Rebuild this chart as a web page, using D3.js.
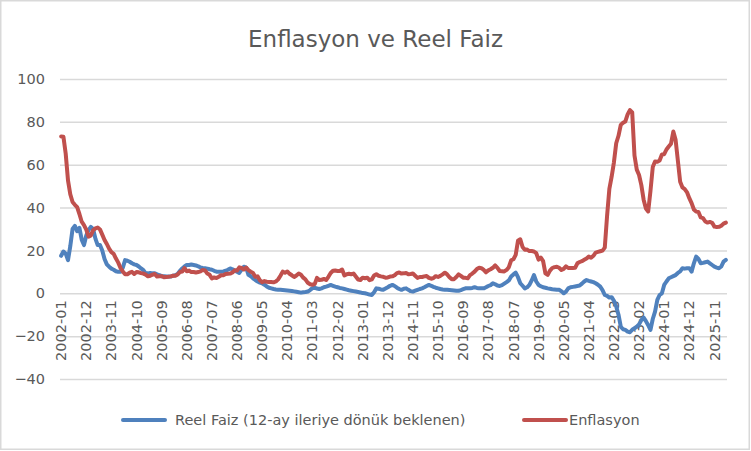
<!DOCTYPE html>
<html>
<head>
<meta charset="utf-8">
<script src="https://cdn.jsdelivr.net/npm/d3@7"></script>
<style>
  body { margin: 0; background: #fff; }
  text { font-family: "DejaVu Sans", sans-serif; fill: #595959; }
</style>
</head>
<body>
<div id="chart"></div>
<script>
// series names
var seriesNames = ["Reel Faiz (12-ay ileriye dönük beklenen)", "Enflasyon"];

// first and last month on the category axis, label every 11th month
var startMonth = "2002-01";
var endMonth = "2026-04";
var labelEvery = 11;

var yTicks = [-40, -20, 0, 20, 40, 60, 80, 100];

// Enflasyon, monthly, 2002-01 .. 2026-04
var enflasyon = [
  73.2, 73.1, 65.1, 52.7, 46.2, 42.6, 41.3, 40.2, 37.0, 33.4, 31.8, 29.7,
  26.4, 27.0, 29.4, 30.3, 30.7, 29.8, 27.4, 24.9, 23.0, 20.8, 19.2, 18.4,
  16.2, 14.3, 11.8, 10.2, 8.9, 8.9, 9.6, 10.0, 9.0, 9.9, 9.8, 9.4,
  9.2, 8.7, 7.9, 8.2, 8.7, 9.0, 7.8, 7.9, 8.0, 7.5, 7.6, 7.7,
  7.9, 8.2, 8.2, 8.8, 9.9, 10.1, 11.7, 10.3, 10.6, 9.9, 9.9, 9.7,
  9.9, 10.2, 10.9, 10.7, 9.2, 8.6, 6.9, 7.4, 7.1, 7.7, 8.4, 8.4,
  9.0, 9.1, 9.2, 9.7, 10.7, 10.6, 12.1, 11.8, 11.1, 12.0, 10.8, 10.1,
  9.5, 7.7, 7.9, 6.1, 5.2, 5.7, 5.4, 5.3, 5.3, 5.1, 5.5, 6.5,
  8.2, 10.1, 9.6, 10.2, 9.1, 8.4, 7.6, 8.3, 9.2, 8.6, 7.3, 6.4,
  4.9, 4.2, 4.0, 4.3, 7.2, 6.2, 6.3, 6.7, 6.2, 7.7, 9.5, 10.5,
  10.6, 10.4, 10.4, 11.1, 8.3, 8.9, 9.1, 8.9, 9.2, 7.8, 6.4, 6.2,
  7.3, 7.0, 7.3, 6.1, 6.5, 8.3, 8.9, 8.2, 7.9, 7.7, 7.3, 7.4,
  7.8, 7.9, 8.4, 9.4, 9.7, 9.2, 9.3, 9.5, 8.9, 9.0, 9.2, 8.2,
  7.2, 7.6, 7.6, 7.9, 8.1, 7.2, 6.8, 7.1, 8.0, 7.6, 8.1, 8.8,
  9.6, 8.8, 7.5, 6.6, 6.6, 7.6, 8.8, 8.1, 7.3, 7.2, 7.0, 8.5,
  9.2, 10.1, 11.3, 11.9, 11.7, 10.9, 9.8, 10.7, 11.2, 11.9, 13.0, 11.9,
  10.4, 10.3, 10.2, 10.9, 12.2, 15.4, 15.9, 17.9, 24.5, 25.2, 21.6, 20.3,
  20.4, 19.7, 19.7, 19.5, 18.7, 15.7, 16.7, 15.0, 9.3, 8.6, 10.6, 11.8,
  12.2, 12.4, 11.9, 10.9, 11.4, 12.6, 11.8, 11.8, 11.8, 11.9, 14.0, 14.6,
  15.0, 15.6, 16.2, 17.1, 16.6, 17.5, 19.0, 19.3, 19.6, 19.9, 21.3, 36.1,
  48.7, 54.4, 61.1, 70.0, 73.5, 78.6, 79.6, 80.2, 83.5, 85.5, 84.4, 64.3,
  57.7, 55.2, 50.5, 43.7, 39.6, 38.2, 47.8, 58.9, 61.5, 61.4, 62.0, 64.8,
  64.9, 67.1, 68.5, 69.8, 75.5, 71.6, 61.8, 52.0, 49.4, 48.6, 47.1, 44.4,
  42.1, 39.1, 38.1, 37.9, 35.4, 35.1, 33.5, 33.0, 33.3, 32.9, 31.1, 30.9,
  31.0, 31.5, 32.5, 33.0
];

// Reel Faiz, monthly, same months
var reelFaiz = [
  17.5, 19.5, 18.5, 15.5, 22.0, 30.0, 31.5, 29.0, 30.5, 25.0, 22.5, 27.0,
  29.5, 31.0, 30.0, 25.5, 22.5, 22.5, 20.0, 16.0, 13.5, 12.4, 11.5, 11.0,
  10.3, 10.0, 10.0, 12.0, 15.5, 15.2, 14.7, 14.0, 13.5, 13.2, 12.5, 11.6,
  10.8, 9.3, 9.3, 9.5, 9.3, 9.3, 8.8, 8.5, 8.0, 8.0, 7.8, 7.8,
  7.8, 8.2, 8.5, 9.0, 10.5, 11.6, 12.5, 13.2, 13.2, 13.4, 13.2, 13.0,
  12.6, 12.0, 11.8, 11.7, 11.5, 11.2, 11.0, 10.5, 10.1, 10.0, 10.1, 10.2,
  10.5, 11.0, 11.6, 11.2, 10.5, 10.1, 9.5, 11.0, 12.4, 12.0, 8.6, 8.0,
  7.0, 6.2, 5.5, 5.0, 4.7, 4.0, 3.2, 2.6, 2.3, 2.0, 1.8, 1.7,
  1.6, 1.5, 1.4, 1.3, 1.2, 1.1, 0.9, 0.7, 0.5, 0.3, 0.5, 0.6,
  0.8, 1.5, 2.4, 2.6, 2.2, 2.0, 2.3, 2.8, 3.1, 3.5, 3.9, 3.5,
  3.1, 2.8, 2.5, 2.3, 2.0, 1.7, 1.4, 1.2, 1.0, 0.8, 0.6, 0.4,
  0.1, 0.0, -0.3, -0.6, -0.8, 0.5, 2.3, 2.1, 1.8, 1.6, 2.2, 2.8,
  3.5, 3.9, 3.4, 2.6, 2.0, 1.6, 2.1, 2.3, 1.6, 1.0, 0.8, 1.2,
  1.6, 2.0, 2.3, 2.8, 3.4, 3.9, 3.5, 3.0, 2.6, 2.3, 2.0, 1.8,
  1.7, 1.6, 1.5, 1.4, 1.3, 1.2, 1.2, 1.5, 1.9, 2.3, 2.4, 2.3,
  2.5, 2.8, 2.5, 2.3, 2.3, 2.3, 2.8, 3.4, 3.8, 4.7, 4.2, 3.6,
  3.4, 3.8, 4.5, 5.2, 6.0, 7.8, 8.8, 9.6, 7.5, 4.7, 3.5, 2.3,
  2.8, 3.9, 6.0, 8.5, 5.5, 3.9, 3.3, 2.8, 2.6, 2.3, 2.1, 1.9,
  1.8, 1.7, 1.6, 1.0, 0.0, 0.8, 2.3, 2.8, 3.0, 3.2, 3.4, 3.6,
  4.5, 5.5, 6.2, 5.8, 5.5, 5.2, 4.7, 4.0, 3.1, 1.5, -0.8, -1.2,
  -2.0, -1.8, -3.5, -6.2, -10.0, -15.6, -16.8, -17.1, -17.9, -18.2, -17.0, -16.3,
  -15.6, -14.5, -12.5, -11.3, -13.0, -14.9, -17.1, -12.0, -8.6, -3.1, -0.8, 0.0,
  3.9, 5.5, 7.0, 7.5, 8.0, 8.5, 9.5, 10.2, 11.7, 11.5, 11.7, 11.7,
  10.1, 14.0, 17.1, 16.0, 14.0, 14.2, 14.5, 14.8, 14.0, 13.2, 12.4, 12.0,
  11.7, 12.5, 14.8, 15.6
];

var colors = ["#4f81bd", "#c0504d"];

var width = 751, height = 451;
var margin = {top: 79, right: 24, bottom: 72, left: 60};

var parseMonth = d3.timeParse("%Y-%m");
var fmtMonth = d3.timeFormat("%Y-%m");
var months = d3.timeMonth.range(parseMonth(startMonth), d3.timeMonth.offset(parseMonth(endMonth), 1)).map(fmtMonth);

var svg = d3.select("#chart").append("svg")
    .attr("width", width)
    .attr("height", height);

// chart border
svg.append("rect")
    .attr("x", 0.75).attr("y", 0.75)
    .attr("width", width - 2.5).attr("height", height - 2.5)
    .attr("fill", "#fff")
    .attr("stroke", "#d9d9d9")
    .attr("stroke-width", 1.5);

var x = d3.scalePoint()
    .domain(months)
    .range([margin.left, width - margin.right])
    .padding(0.5);

var y = d3.scaleLinear()
    .domain([-40, 100])
    .range([height - margin.bottom, margin.top]);

// gridlines + y labels
var yAxis = d3.axisLeft(y)
    .tickValues(yTicks)
    .tickSize(-(width - margin.left - margin.right))
    .tickPadding(15);

svg.append("g")
    .attr("class", "yAxis")
    .attr("transform", "translate(" + margin.left + ",0)")
    .call(yAxis)
    .call(function(g) {
      g.select(".domain").remove();
      g.selectAll(".tick line").attr("stroke", "#d9d9d9").attr("stroke-width", 1.5);
      g.selectAll(".tick text")
        .style("font-size", "14.5px")
        .attr("fill", "#595959");
    });

// category labels, rotated, hanging under the zero line
var xLabels = months.filter(function(d, i) { return i % labelEvery === 0; });

svg.append("g")
    .attr("class", "xAxis")
    .selectAll("text")
    .data(xLabels)
    .enter().append("text")
    .attr("transform", function(d) {
      return "translate(" + x(d) + "," + (y(0) + 7) + ") rotate(-90)";
    })
    .attr("text-anchor", "end")
    .attr("dy", "0.35em")
    .style("font-size", "14.5px")
    .text(function(d) { return d; });

// lines
var line = d3.line()
    .x(function(d, i) { return x(months[i]); })
    .y(function(d) { return y(d); });

var series = [reelFaiz, enflasyon];

svg.selectAll(".series")
    .data(series)
    .enter().append("path")
    .attr("class", "series")
    .attr("d", function(d) { return line(d); })
    .attr("fill", "none")
    .attr("stroke", function(d, i) { return colors[i]; })
    .attr("stroke-width", 4)
    .attr("stroke-linejoin", "round")
    .attr("stroke-linecap", "round");

// title
svg.append("text")
    .attr("x", width / 2)
    .attr("y", 47)
    .attr("text-anchor", "middle")
    .style("font-size", "23px")
    .text("Enflasyon ve Reel Faiz");

// legend
var legendX = [123, 524];
var legend = svg.selectAll(".legend")
    .data(seriesNames)
    .enter().append("g")
    .attr("class", "legend")
    .attr("transform", function(d, i) { return "translate(" + legendX[i] + ",420)"; });

legend.append("line")
    .attr("x1", 0).attr("x2", 42)
    .attr("stroke", function(d, i) { return colors[i]; })
    .attr("stroke-width", 4)
    .attr("stroke-linecap", "round");

legend.append("text")
    .attr("x", function(d, i) { return i === 0 ? 52 : 45; })
    .attr("dy", "0.35em")
    .style("font-size", "14.5px")
    .text(function(d) { return d; });
</script>
</body>
</html>
